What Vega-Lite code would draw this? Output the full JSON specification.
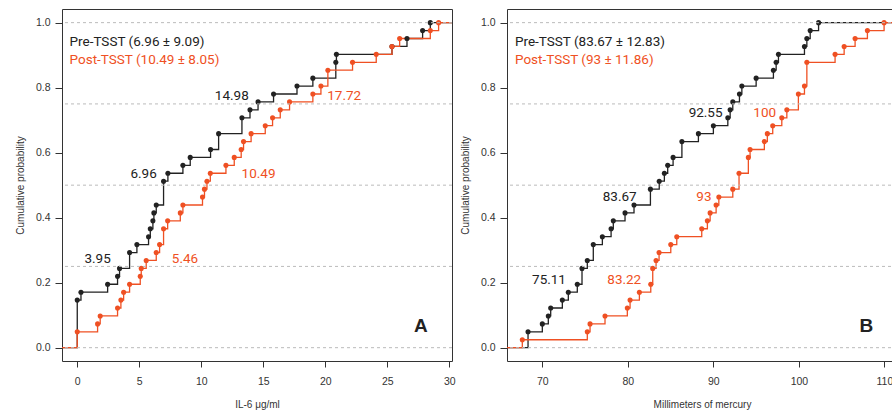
{
  "$schema": "https://vega.github.io/schema/vega-lite/v6.json",
  "padding": {"left": 14, "top": 8, "right": 0, "bottom": 0},
  "spacing": 55,
  "bounds": "flush",
  "config": {
    "font": "Liberation Sans",
    "view": {"stroke": "#333333", "strokeWidth": 1},
    "axis": {"domain": false, "grid": false, "tickColor": "#333333", "labelFont": "Liberation Sans", "labelFontSize": 10.5, "labelColor": "#333333", "titleFont": "Liberation Sans", "titleFontSize": 10, "titleFontWeight": "normal", "titleColor": "#333333", "labelFlush": false},
    "axisY": {"tickSize": 7, "labelPadding": 5, "titlePadding": 10},
    "axisX": {"tickSize": 6, "labelPadding": 9, "titlePadding": 13}
  },
  "datasets": {
    "a": [
      {"g": "Pre", "x": -5, "y": 0, "e": 1},
      {"g": "Pre", "x": 0, "y": 0.1463, "e": 0},
      {"g": "Pre", "x": 0.3, "y": 0.1707, "e": 0},
      {"g": "Pre", "x": 2.45, "y": 0.1951, "e": 0},
      {"g": "Pre", "x": 3.25, "y": 0.2195, "e": 0},
      {"g": "Pre", "x": 3.41, "y": 0.2439, "e": 0},
      {"g": "Pre", "x": 4.22, "y": 0.2927, "e": 0},
      {"g": "Pre", "x": 4.81, "y": 0.3171, "e": 0},
      {"g": "Pre", "x": 5.75, "y": 0.3415, "e": 0},
      {"g": "Pre", "x": 5.89, "y": 0.3659, "e": 0},
      {"g": "Pre", "x": 6.1, "y": 0.3902, "e": 0},
      {"g": "Pre", "x": 6.18, "y": 0.4146, "e": 0},
      {"g": "Pre", "x": 6.37, "y": 0.439, "e": 0},
      {"g": "Pre", "x": 6.96, "y": 0.5122, "e": 0},
      {"g": "Pre", "x": 7.31, "y": 0.5366, "e": 0},
      {"g": "Pre", "x": 8.52, "y": 0.561, "e": 0},
      {"g": "Pre", "x": 9.11, "y": 0.5854, "e": 0},
      {"g": "Pre", "x": 10.75, "y": 0.6098, "e": 0},
      {"g": "Pre", "x": 11.4, "y": 0.6585, "e": 0},
      {"g": "Pre", "x": 13.28, "y": 0.7073, "e": 0},
      {"g": "Pre", "x": 13.93, "y": 0.7317, "e": 0},
      {"g": "Pre", "x": 14.58, "y": 0.7561, "e": 0},
      {"g": "Pre", "x": 15.83, "y": 0.7805, "e": 0},
      {"g": "Pre", "x": 17.72, "y": 0.8049, "e": 0},
      {"g": "Pre", "x": 19.0, "y": 0.8293, "e": 0},
      {"g": "Pre", "x": 20.85, "y": 0.878, "e": 0},
      {"g": "Pre", "x": 20.9, "y": 0.9024, "e": 0},
      {"g": "Pre", "x": 25.38, "y": 0.9268, "e": 0},
      {"g": "Pre", "x": 26.59, "y": 0.9512, "e": 0},
      {"g": "Pre", "x": 27.85, "y": 0.9756, "e": 0},
      {"g": "Pre", "x": 28.47, "y": 1.0, "e": 0},
      {"g": "Pre", "x": 40, "y": 1.0, "e": 1},
      {"g": "Post", "x": -5, "y": 0, "e": 1},
      {"g": "Post", "x": 0, "y": 0.0488, "e": 0},
      {"g": "Post", "x": 1.64, "y": 0.0732, "e": 0},
      {"g": "Post", "x": 1.85, "y": 0.0976, "e": 0},
      {"g": "Post", "x": 3.25, "y": 0.122, "e": 0},
      {"g": "Post", "x": 3.52, "y": 0.1463, "e": 0},
      {"g": "Post", "x": 3.74, "y": 0.1707, "e": 0},
      {"g": "Post", "x": 4.22, "y": 0.1951, "e": 0},
      {"g": "Post", "x": 5.08, "y": 0.2195, "e": 0},
      {"g": "Post", "x": 5.16, "y": 0.2439, "e": 0},
      {"g": "Post", "x": 5.56, "y": 0.2683, "e": 0},
      {"g": "Post", "x": 6.37, "y": 0.2927, "e": 0},
      {"g": "Post", "x": 6.64, "y": 0.3171, "e": 0},
      {"g": "Post", "x": 6.96, "y": 0.3659, "e": 0},
      {"g": "Post", "x": 7.29, "y": 0.3902, "e": 0},
      {"g": "Post", "x": 8.31, "y": 0.4146, "e": 0},
      {"g": "Post", "x": 8.52, "y": 0.439, "e": 0},
      {"g": "Post", "x": 10.1, "y": 0.4634, "e": 0},
      {"g": "Post", "x": 10.26, "y": 0.4878, "e": 0},
      {"g": "Post", "x": 10.46, "y": 0.5122, "e": 0},
      {"g": "Post", "x": 10.73, "y": 0.5366, "e": 0},
      {"g": "Post", "x": 11.99, "y": 0.561, "e": 0},
      {"g": "Post", "x": 12.66, "y": 0.5854, "e": 0},
      {"g": "Post", "x": 13.22, "y": 0.6098, "e": 0},
      {"g": "Post", "x": 13.41, "y": 0.6341, "e": 0},
      {"g": "Post", "x": 14.02, "y": 0.6585, "e": 0},
      {"g": "Post", "x": 15.16, "y": 0.6829, "e": 0},
      {"g": "Post", "x": 15.75, "y": 0.7073, "e": 0},
      {"g": "Post", "x": 16.37, "y": 0.7317, "e": 0},
      {"g": "Post", "x": 17.12, "y": 0.7561, "e": 0},
      {"g": "Post", "x": 19.0, "y": 0.7805, "e": 0},
      {"g": "Post", "x": 19.65, "y": 0.8049, "e": 0},
      {"g": "Post", "x": 20.21, "y": 0.8537, "e": 0},
      {"g": "Post", "x": 22.2, "y": 0.878, "e": 0},
      {"g": "Post", "x": 24.11, "y": 0.9024, "e": 0},
      {"g": "Post", "x": 25.38, "y": 0.9268, "e": 0},
      {"g": "Post", "x": 26.0, "y": 0.9512, "e": 0},
      {"g": "Post", "x": 28.47, "y": 0.9756, "e": 0},
      {"g": "Post", "x": 29.14, "y": 1.0, "e": 0},
      {"g": "Post", "x": 40, "y": 1.0, "e": 1}
    ],
    "b": [
      {"g": "Pre", "x": 60, "y": 0, "e": 1},
      {"g": "Pre", "x": 68.33, "y": 0.0488, "e": 0},
      {"g": "Pre", "x": 70.0, "y": 0.0732, "e": 0},
      {"g": "Pre", "x": 70.7, "y": 0.0976, "e": 0},
      {"g": "Pre", "x": 70.98, "y": 0.122, "e": 0},
      {"g": "Pre", "x": 72.34, "y": 0.1463, "e": 0},
      {"g": "Pre", "x": 73.04, "y": 0.1707, "e": 0},
      {"g": "Pre", "x": 74.09, "y": 0.1951, "e": 0},
      {"g": "Pre", "x": 74.64, "y": 0.2439, "e": 0},
      {"g": "Pre", "x": 75.26, "y": 0.2683, "e": 0},
      {"g": "Pre", "x": 75.96, "y": 0.3171, "e": 0},
      {"g": "Pre", "x": 77.02, "y": 0.3415, "e": 0},
      {"g": "Pre", "x": 78.04, "y": 0.3659, "e": 0},
      {"g": "Pre", "x": 78.3, "y": 0.3902, "e": 0},
      {"g": "Pre", "x": 79.67, "y": 0.4146, "e": 0},
      {"g": "Pre", "x": 80.72, "y": 0.439, "e": 0},
      {"g": "Pre", "x": 82.64, "y": 0.4878, "e": 0},
      {"g": "Pre", "x": 83.67, "y": 0.5122, "e": 0},
      {"g": "Pre", "x": 84.27, "y": 0.5366, "e": 0},
      {"g": "Pre", "x": 84.66, "y": 0.561, "e": 0},
      {"g": "Pre", "x": 85.29, "y": 0.5854, "e": 0},
      {"g": "Pre", "x": 86.32, "y": 0.6341, "e": 0},
      {"g": "Pre", "x": 88.25, "y": 0.6585, "e": 0},
      {"g": "Pre", "x": 90.0, "y": 0.6829, "e": 0},
      {"g": "Pre", "x": 91.69, "y": 0.7073, "e": 0},
      {"g": "Pre", "x": 91.96, "y": 0.7317, "e": 0},
      {"g": "Pre", "x": 92.27, "y": 0.7561, "e": 0},
      {"g": "Pre", "x": 93.05, "y": 0.7805, "e": 0},
      {"g": "Pre", "x": 93.33, "y": 0.8049, "e": 0},
      {"g": "Pre", "x": 95.0, "y": 0.8293, "e": 0},
      {"g": "Pre", "x": 97.02, "y": 0.8537, "e": 0},
      {"g": "Pre", "x": 97.34, "y": 0.878, "e": 0},
      {"g": "Pre", "x": 97.61, "y": 0.9024, "e": 0},
      {"g": "Pre", "x": 100.65, "y": 0.9268, "e": 0},
      {"g": "Pre", "x": 100.93, "y": 0.9512, "e": 0},
      {"g": "Pre", "x": 101.32, "y": 0.9756, "e": 0},
      {"g": "Pre", "x": 102.3, "y": 1.0, "e": 0},
      {"g": "Pre", "x": 120, "y": 1.0, "e": 1},
      {"g": "Post", "x": 60, "y": 0, "e": 1},
      {"g": "Post", "x": 67.66, "y": 0.0244, "e": 0},
      {"g": "Post", "x": 75.26, "y": 0.0488, "e": 0},
      {"g": "Post", "x": 75.58, "y": 0.0732, "e": 0},
      {"g": "Post", "x": 77.33, "y": 0.0976, "e": 0},
      {"g": "Post", "x": 79.94, "y": 0.122, "e": 0},
      {"g": "Post", "x": 80.26, "y": 0.1463, "e": 0},
      {"g": "Post", "x": 81.35, "y": 0.1707, "e": 0},
      {"g": "Post", "x": 82.68, "y": 0.1951, "e": 0},
      {"g": "Post", "x": 82.91, "y": 0.2439, "e": 0},
      {"g": "Post", "x": 83.3, "y": 0.2683, "e": 0},
      {"g": "Post", "x": 83.65, "y": 0.2927, "e": 0},
      {"g": "Post", "x": 85.02, "y": 0.3171, "e": 0},
      {"g": "Post", "x": 85.72, "y": 0.3415, "e": 0},
      {"g": "Post", "x": 88.64, "y": 0.3659, "e": 0},
      {"g": "Post", "x": 89.3, "y": 0.3902, "e": 0},
      {"g": "Post", "x": 89.62, "y": 0.4146, "e": 0},
      {"g": "Post", "x": 90.32, "y": 0.439, "e": 0},
      {"g": "Post", "x": 90.64, "y": 0.4634, "e": 0},
      {"g": "Post", "x": 92.27, "y": 0.4878, "e": 0},
      {"g": "Post", "x": 93.0, "y": 0.5366, "e": 0},
      {"g": "Post", "x": 94.09, "y": 0.5854, "e": 0},
      {"g": "Post", "x": 94.29, "y": 0.6098, "e": 0},
      {"g": "Post", "x": 95.96, "y": 0.6341, "e": 0},
      {"g": "Post", "x": 96.31, "y": 0.6585, "e": 0},
      {"g": "Post", "x": 96.94, "y": 0.6829, "e": 0},
      {"g": "Post", "x": 98.0, "y": 0.7073, "e": 0},
      {"g": "Post", "x": 98.59, "y": 0.7317, "e": 0},
      {"g": "Post", "x": 99.94, "y": 0.7805, "e": 0},
      {"g": "Post", "x": 100.65, "y": 0.8049, "e": 0},
      {"g": "Post", "x": 100.93, "y": 0.878, "e": 0},
      {"g": "Post", "x": 104.23, "y": 0.9024, "e": 0},
      {"g": "Post", "x": 105.29, "y": 0.9268, "e": 0},
      {"g": "Post", "x": 106.57, "y": 0.9512, "e": 0},
      {"g": "Post", "x": 108.01, "y": 0.9756, "e": 0},
      {"g": "Post", "x": 109.96, "y": 1.0, "e": 0},
      {"g": "Post", "x": 120, "y": 1.0, "e": 1}
    ],
    "qa": [
      {"g": "Pre", "x": 1.64, "y": 0.273, "t": "3.95"},
      {"g": "Pre", "x": 5.35, "y": 0.534, "t": "6.96"},
      {"g": "Pre", "x": 12.46, "y": 0.773, "t": "14.98"},
      {"g": "Post", "x": 8.69, "y": 0.273, "t": "5.46"},
      {"g": "Post", "x": 14.62, "y": 0.534, "t": "10.49"},
      {"g": "Post", "x": 21.53, "y": 0.773, "t": "17.72"}
    ],
    "qb": [
      {"g": "Pre", "x": 70.78, "y": 0.209, "t": "75.11"},
      {"g": "Pre", "x": 79.05, "y": 0.463, "t": "83.67"},
      {"g": "Pre", "x": 89.09, "y": 0.723, "t": "92.55"},
      {"g": "Post", "x": 79.58, "y": 0.209, "t": "83.22"},
      {"g": "Post", "x": 88.9, "y": 0.463, "t": "93"},
      {"g": "Post", "x": 96.0, "y": 0.723, "t": "100"}
    ],
    "la": [
      {"g": "Pre", "x": -0.62, "y": 0.939, "t": "Pre-TSST (6.96 ± 9.09)"},
      {"g": "Post", "x": -0.62, "y": 0.885, "t": "Post-TSST (10.49 ± 8.05)"}
    ],
    "lb": [
      {"g": "Pre", "x": 66.8, "y": 0.939, "t": "Pre-TSST (83.67 ± 12.83)"},
      {"g": "Post", "x": 66.8, "y": 0.885, "t": "Post-TSST (93 ± 11.86)"}
    ],
    "pa": [{"x": 27.7, "y": 0.067, "t": "A"}],
    "pb": [{"x": 107.9, "y": 0.067, "t": "B"}],
    "grid": [{"y": 0}, {"y": 0.25}, {"y": 0.5}, {"y": 0.75}, {"y": 1}]
  },
  "hconcat": [
    {
      "width": 390,
      "height": 352,
      "layer": [
        {
          "data": {"name": "a"},
          "mark": {"type": "line", "interpolate": "step-after", "clip": true, "strokeWidth": 1.3},
          "encoding": {
            "x": {"field": "x", "type": "quantitative", "title": "IL-6 μg/ml", "scale": {"domain": [-1.23, 30.22], "nice": false, "zero": false}, "axis": {"values": [0, 5, 10, 15, 20, 25, 30]}},
            "y": {"field": "y", "type": "quantitative", "title": "Cumulative probability", "scale": {"domain": [-0.041, 1.042], "nice": false, "zero": false}, "axis": {"values": [0, 0.2, 0.4, 0.6, 0.8, 1.0], "format": ".1f"}},
            "color": {"field": "g", "type": "nominal", "scale": {"domain": ["Pre", "Post"], "range": ["#222222", "#ef5023"]}, "legend": null}
          }
        },
        {
          "data": {"name": "a"},
          "transform": [{"filter": "datum.e == 0"}],
          "mark": {"type": "point", "filled": true, "opacity": 1, "size": 26},
          "encoding": {
            "x": {"field": "x", "type": "quantitative", "title": "IL-6 μg/ml"},
            "y": {"field": "y", "type": "quantitative", "title": "Cumulative probability"},
            "color": {"field": "g", "type": "nominal", "legend": null}
          }
        },
        {
          "data": {"name": "qa"},
          "mark": {"type": "text", "font": "Roboto", "fontSize": 13.5, "baseline": "middle", "align": "center"},
          "encoding": {
            "x": {"field": "x", "type": "quantitative", "title": "IL-6 μg/ml"},
            "y": {"field": "y", "type": "quantitative", "title": "Cumulative probability"},
            "color": {"field": "g", "type": "nominal", "legend": null},
            "text": {"field": "t"}
          }
        },
        {
          "data": {"name": "la"},
          "mark": {"type": "text", "font": "Roboto", "fontSize": 13.5, "baseline": "middle", "align": "left"},
          "encoding": {
            "x": {"field": "x", "type": "quantitative", "title": "IL-6 μg/ml"},
            "y": {"field": "y", "type": "quantitative", "title": "Cumulative probability"},
            "color": {"field": "g", "type": "nominal", "legend": null},
            "text": {"field": "t"}
          }
        },
        {
          "data": {"name": "pa"},
          "mark": {"type": "text", "font": "Liberation Sans", "fontSize": 19, "fontWeight": "bold", "baseline": "middle", "align": "center", "color": "#222222"},
          "encoding": {
            "x": {"field": "x", "type": "quantitative", "title": "IL-6 μg/ml"},
            "y": {"field": "y", "type": "quantitative", "title": "Cumulative probability"},
            "text": {"field": "t"}
          }
        },
        {
          "data": {"name": "grid"},
          "mark": {"type": "rule", "color": "#bbbbbb", "strokeDash": [3, 3], "strokeWidth": 1},
          "encoding": {
            "y": {"field": "y", "type": "quantitative", "title": "Cumulative probability"}
          }
        }
      ]
    },
    {
      "width": 390,
      "height": 352,
      "layer": [
        {
          "data": {"name": "b"},
          "mark": {"type": "line", "interpolate": "step-after", "clip": true, "strokeWidth": 1.3},
          "encoding": {
            "x": {"field": "x", "type": "quantitative", "title": "Millimeters of mercury", "scale": {"domain": [65.87, 111.47], "nice": false, "zero": false}, "axis": {"values": [70, 80, 90, 100, 110]}},
            "y": {"field": "y", "type": "quantitative", "title": "Cumulative probability", "scale": {"domain": [-0.041, 1.042], "nice": false, "zero": false}, "axis": {"values": [0, 0.2, 0.4, 0.6, 0.8, 1.0], "format": ".1f"}},
            "color": {"field": "g", "type": "nominal", "scale": {"domain": ["Pre", "Post"], "range": ["#222222", "#ef5023"]}, "legend": null}
          }
        },
        {
          "data": {"name": "b"},
          "transform": [{"filter": "datum.e == 0"}],
          "mark": {"type": "point", "filled": true, "opacity": 1, "size": 26},
          "encoding": {
            "x": {"field": "x", "type": "quantitative", "title": "Millimeters of mercury"},
            "y": {"field": "y", "type": "quantitative", "title": "Cumulative probability"},
            "color": {"field": "g", "type": "nominal", "legend": null}
          }
        },
        {
          "data": {"name": "qb"},
          "mark": {"type": "text", "font": "Roboto", "fontSize": 13.5, "baseline": "middle", "align": "center"},
          "encoding": {
            "x": {"field": "x", "type": "quantitative", "title": "Millimeters of mercury"},
            "y": {"field": "y", "type": "quantitative", "title": "Cumulative probability"},
            "color": {"field": "g", "type": "nominal", "legend": null},
            "text": {"field": "t"}
          }
        },
        {
          "data": {"name": "lb"},
          "mark": {"type": "text", "font": "Roboto", "fontSize": 13.5, "baseline": "middle", "align": "left"},
          "encoding": {
            "x": {"field": "x", "type": "quantitative", "title": "Millimeters of mercury"},
            "y": {"field": "y", "type": "quantitative", "title": "Cumulative probability"},
            "color": {"field": "g", "type": "nominal", "legend": null},
            "text": {"field": "t"}
          }
        },
        {
          "data": {"name": "pb"},
          "mark": {"type": "text", "font": "Liberation Sans", "fontSize": 19, "fontWeight": "bold", "baseline": "middle", "align": "center", "color": "#222222"},
          "encoding": {
            "x": {"field": "x", "type": "quantitative", "title": "Millimeters of mercury"},
            "y": {"field": "y", "type": "quantitative", "title": "Cumulative probability"},
            "text": {"field": "t"}
          }
        },
        {
          "data": {"name": "grid"},
          "mark": {"type": "rule", "color": "#bbbbbb", "strokeDash": [3, 3], "strokeWidth": 1},
          "encoding": {
            "y": {"field": "y", "type": "quantitative", "title": "Cumulative probability"}
          }
        }
      ]
    }
  ]
}
